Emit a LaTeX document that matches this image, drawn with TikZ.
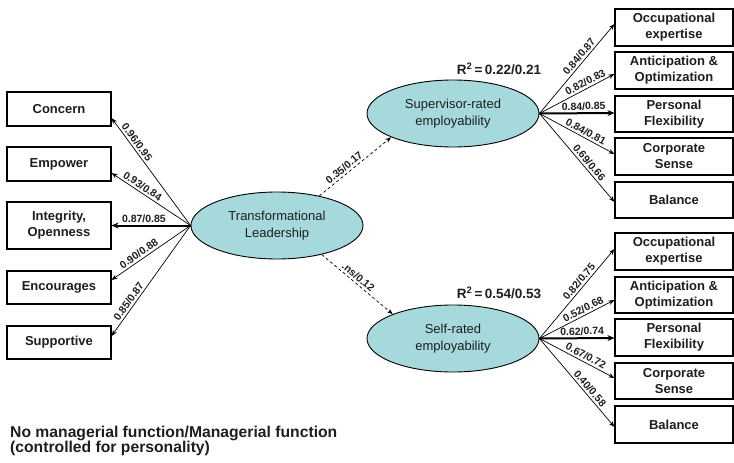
\documentclass[tikz,border=0pt]{standalone}
\usepackage{fontspec}
\setmainfont{Liberation Sans}
\usetikzlibrary{arrows.meta,shapes.geometric,calc}
\definecolor{ellfill}{RGB}{166,217,219}
\definecolor{txt}{RGB}{30,30,30}
\begin{document}
\begin{tikzpicture}[x=1pt,y=-1pt,
  box/.style={draw, line width=1.1pt, minimum width=104pt, minimum height=34pt, inner sep=0pt, align=center, font=\fontsize{13}{16}\selectfont\bfseries, text=txt},
  rbox/.style={box, minimum width=118pt, minimum height=37pt},
  lat/.style={ellipse, draw, fill=ellfill, line width=0.9pt, minimum width=172pt, minimum height=67pt, inner sep=0pt, align=center, font=\fontsize{13}{16.5}\selectfont, text=txt},
  arr/.style={-{Stealth[length=6pt,width=4.5pt]}, line width=0.7pt},
  tarr/.style={-{Stealth[length=7pt,width=6pt]}, line width=2pt},
  darr/.style={arr, dash pattern=on 3pt off 2.5pt},
  lbl/.style={font=\fontsize{10.5}{12}\selectfont\bfseries, sloped, above, inner sep=2pt, text=txt},
  rsq/.style={font=\fontsize{13.5}{16}\selectfont\bfseries, text=txt, inner sep=0pt}
]
\useasboundingbox (0,0) rectangle (734,463);

% left boxes
\node[box] (concern) at (59,109) {Concern};
\node[box] (empower) at (59,164) {Empower};
\node[box, minimum height=47pt] (integrity) at (59,225.5) {Integrity,\\Openness};
\node[box, minimum height=33pt] (encourages) at (59,287.5) {Encourages};
\node[box, minimum height=33pt] (supportive) at (59,342.5) {Supportive};

% latent variables
\node[lat] (TL) at (277,225.5) {Transformational\\Leadership};
\node[lat] (SUP) at (453,113.5) {Supervisor-rated\\employability};
\node[lat] (SELF) at (453,338.5) {Self-rated\\employability};

% right boxes upper
\node[rbox] (occ1) at (674,27.5) {Occupational\\expertise};
\node[rbox] (ant1) at (674,70.5) {Anticipation \&\\Optimization};
\node[rbox, minimum height=36pt] (per1) at (674,114) {Personal\\Flexibility};
\node[rbox] (cor1) at (674,156.5) {Corporate\\Sense};
\node[rbox, minimum height=36pt] (bal1) at (674,200) {Balance};

% right boxes lower
\node[rbox] (occ2) at (674,251.5) {Occupational\\expertise};
\node[rbox, minimum height=36pt] (ant2) at (674,295) {Anticipation \&\\Optimization};
\node[rbox] (per2) at (674,337.5) {Personal\\Flexibility};
\node[rbox, minimum height=36pt] (cor2) at (674,381) {Corporate\\Sense};
\node[rbox] (bal2) at (674,424.5) {Balance};

% R squared
\node[rsq] (r1) at (499,69) {R\textsuperscript{2}\,=\,0.22/0.21};
\node[rsq] (r2) at (499,293) {R\textsuperscript{2}\,=\,0.54/0.53};

% bottom note
\node[anchor=west, align=left, inner sep=0pt, font=\fontsize{15.7}{15}\selectfont\bfseries, text=txt] (note) at (10,440.5) {No managerial function/Managerial function\\(controlled for personality)};

% left loadings
\draw[arr] (TL.west) -- ([yshift=-9pt]concern.east) node[lbl,pos=0.74]{0.96/0.95};
\draw[arr] (TL.west) -- ([yshift=-9pt]empower.east) node[lbl,pos=0.65]{0.93/0.84};
\draw[tarr] (TL.west) -- (integrity.east) node[lbl,pos=0.59]{0.87/0.85};
\draw[arr] (TL.west) -- ([yshift=7.5pt]encourages.east) node[lbl,pos=0.61]{0.90/0.88};
\draw[arr] (TL.west) -- ([yshift=6.5pt]supportive.east) node[lbl,pos=0.72]{0.85/0.87};

% structural paths
\draw[darr] (TL.35) -- (SUP.201) node[lbl,pos=0.40]{0.35/0.17};
\draw[darr] (TL.-33) -- (SELF.158) node[lbl,pos=0.46]{.ns/0.12};

% upper loadings
\draw[arr] (SUP.east) -- ([yshift=3.5pt]occ1.west) node[lbl,pos=0.59]{0.84/0.87};
\draw[arr] (SUP.east) -- ([yshift=-3.5pt]ant1.west) node[lbl,pos=0.65]{0.82/0.83};
\draw[tarr] (SUP.east) -- ([yshift=1pt]per1.west) node[lbl,pos=0.59]{0.84/0.85};
\draw[arr] (SUP.east) -- ([yshift=2.5pt]cor1.west) node[lbl,pos=0.58]{0.84/0.81};
\draw[arr] (SUP.east) -- ([yshift=-2pt]bal1.west) node[lbl,pos=0.60]{0.69/0.66};

% lower loadings
\draw[arr] (SELF.east) -- ([yshift=2.5pt]occ2.west) node[lbl,pos=0.59]{0.82/0.75};
\draw[arr] (SELF.east) -- ([yshift=-5pt]ant2.west) node[lbl,pos=0.62]{0.52/0.68};
\draw[tarr] (SELF.east) -- ([yshift=-0.5pt]per2.west) node[lbl,pos=0.57]{0.62/0.74};
\draw[arr] (SELF.east) -- ([yshift=3pt]cor2.west) node[lbl,pos=0.58]{0.67/0.72};
\draw[arr] (SELF.east) -- ([yshift=-2.5pt]bal2.west) node[lbl,pos=0.61]{0.40/0.58};
\end{tikzpicture}
\end{document}
